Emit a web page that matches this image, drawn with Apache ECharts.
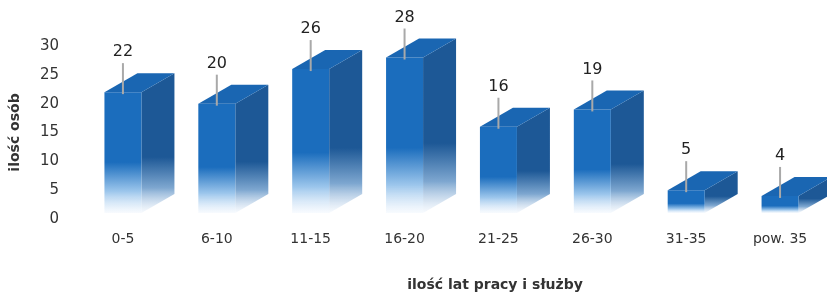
<!DOCTYPE html>
<html>
<head>
<meta charset="utf-8">
<script src="https://cdn.jsdelivr.net/npm/echarts@6/dist/echarts.min.js"></script>
<style>
  html, body { margin: 0; padding: 0; background: #fff; }
  #chart { width: 827px; height: 294px; }
</style>
</head>
<body>
<div id="chart"></div>
<script>
// kategorie (lata pracy) i liczba osób
const categories = ['0-5', '6-10', '11-15', '16-20', '21-25', '26-30', '31-35', 'pow. 35']
const values = [22, 20, 26, 28, 16, 19, 5, 4]
// oś Y
const yMin = 0
const yMax = 30
const yStep = 5

const font = 'DejaVu Sans'

const chart = echarts.init(document.getElementById('chart'))

// słupek "3D": przód, bok, góra + etykieta z kreską
function renderBox(params, api) {
  const top = api.coord([api.value(0), api.value(1)])
  const base = api.coord([api.value(0), 0])
  const w = 37 // szerokość przodu
  const d = 33 // głębokość
  const dy = 19 // przesunięcie w górę
  const x0 = top[0] - w / 2
  const yt = top[1]
  const yb = base[1] - 6

  const fade = (c1, c2, start) => ({
    type: 'linear', x: 0, y: 0, x2: 0, y2: 1,
    colorStops: [
      { offset: 0, color: c1 },
      { offset: start, color: c1 },
      { offset: 0.82, color: c2 },
      { offset: 1, color: 'rgba(240,246,253,0.5)' }
    ]
  })

  return {
    type: 'group',
    children: [
      {
        type: 'polygon',
        shape: { points: [[x0 + w, yt], [x0 + w + d, yt - dy], [x0 + w + d, yb - dy], [x0 + w, yb]] },
        style: { fill: fade('#1d5896', '#7ea7d0', 0.6) }
      },
      {
        type: 'rect',
        shape: { x: x0, y: yt, width: w, height: yb - yt },
        style: { fill: fade('#1b6dbd', '#9cc6ec', 0.58) }
      },
      {
        type: 'polygon',
        shape: { points: [[x0, yt], [x0 + w, yt], [x0 + w + d, yt - dy], [x0 + d, yt - dy]] },
        style: { fill: '#1a66b2' }
      },
      {
        type: 'line',
        shape: { x1: top[0], y1: yt - 29, x2: top[0], y2: yt + 2 },
        style: { stroke: '#a9a9a9', lineWidth: 2 }
      },
      {
        type: 'text',
        style: {
          text: String(api.value(1)),
          x: top[0], y: yt - 40,
          align: 'center', verticalAlign: 'middle',
          font: '16px "' + font + '"',
          fill: '#222'
        }
      }
    ]
  }
}

chart.setOption({
  animation: false,
  grid: { left: 72, top: 46, width: 757, bottom: 75 },
  xAxis: {
    type: 'category',
    data: categories,
    axisLine: { show: false },
    axisTick: { show: false },
    axisLabel: { margin: 13, color: '#333', fontFamily: font, fontSize: 14 }
  },
  yAxis: {
    type: 'value',
    min: yMin,
    max: yMax,
    interval: yStep,
    name: 'ilość osób',
    nameLocation: 'middle',
    nameGap: 54,
    nameTextStyle: { color: '#333', fontFamily: font, fontSize: 14, fontWeight: 'bold' },
    splitLine: { show: false },
    axisLabel: { margin: 17, color: '#333', fontFamily: font, fontSize: 15, padding: [4, 0, 0, 0] }
  },
  graphic: [
    {
      type: 'text',
      x: 495, y: 285,
      style: {
        text: 'ilość lat pracy i służby',
        align: 'center', verticalAlign: 'middle',
        font: 'bold 14px "' + font + '"',
        fill: '#333'
      }
    }
  ],
  series: [
    {
      type: 'custom',
      renderItem: renderBox,
      clip: false,
      data: values.map((v, i) => [i, v])
    }
  ]
})
</script>
</body>
</html>
